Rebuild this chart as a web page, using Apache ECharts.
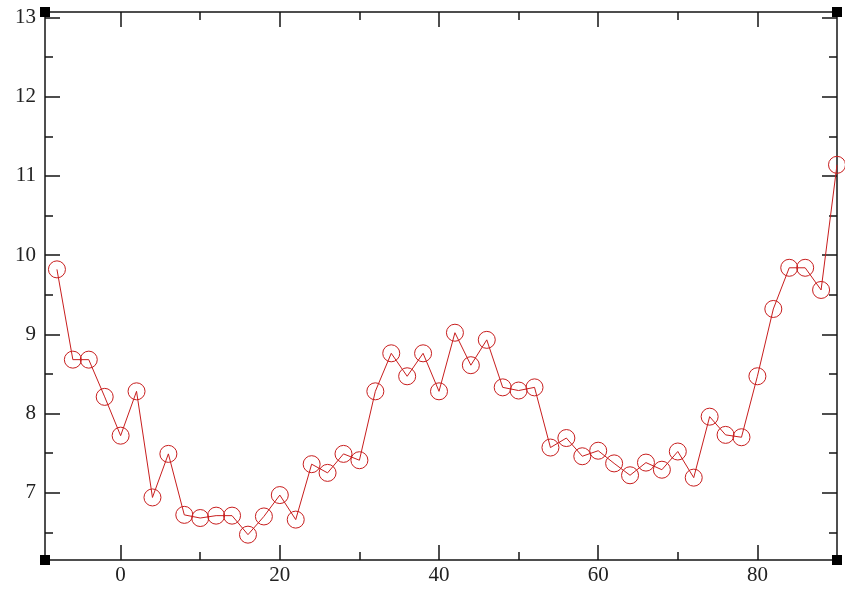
<!DOCTYPE html>
<html>
<head>
<meta charset="utf-8">
<script src="https://cdn.jsdelivr.net/npm/echarts@6/dist/echarts.min.js"></script>
<style>
  html, body { margin: 0; padding: 0; background: #fff; }
  #chart { width: 845px; height: 591px; }
</style>
</head>
<body>
<div id="chart"></div>
<script>
// Sample positions along x and the measured value at each one
const xValues = [-8, -6, -4, -2, 0, 2, 4, 6, 8, 10, 12, 14, 16, 18, 20, 22, 24, 26, 28, 30,
  32, 34, 36, 38, 40, 42, 44, 46, 48, 50, 52, 54, 56, 58, 60, 62, 64, 66, 68, 70,
  72, 74, 76, 78, 80, 82, 84, 86, 88, 90];
const yValues = [9.82, 8.68, 8.68, 8.21, 7.72, 8.28, 6.94, 7.49, 6.72, 6.68, 6.71, 6.71, 6.47, 6.70, 6.97, 6.66, 7.36, 7.25, 7.49, 7.41,
  8.28, 8.76, 8.47, 8.76, 8.28, 9.02, 8.61, 8.93, 8.33, 8.29, 8.33, 7.57, 7.69, 7.46, 7.53, 7.37, 7.22, 7.38, 7.29, 7.52,
  7.19, 7.96, 7.73, 7.70, 8.47, 9.32, 9.84, 9.84, 9.56, 11.14];

// Tick positions
const xMajorTicks = [0, 20, 40, 60, 80];
const xMinorTicks = [10, 30, 50, 70];
const yMajorTicks = [7, 8, 9, 10, 11, 12, 13];
const yMinorTicks = [6.5, 7.5, 8.5, 9.5, 10.5, 11.5, 12.5];

const X_RANGE = [-9.5, 90];
const Y_RANGE = [6.15, 13.07];

const LINE_COLOR = '#c81e1e';
const AXIS_COLOR = '#151515';
const FONT = '"Liberation Serif", "DejaVu Serif", serif';

const GRID = { left: 45, right: 8, top: 12, bottom: 31 };

function makeAxis(kind, position, ticks, tickLen, withLine, withLabels, range) {
  const ax = {
    type: 'value',
    position: position,
    min: range[0],
    max: range[1],
    splitLine: { show: false },
    axisLine: { show: withLine, onZero: false, lineStyle: { color: AXIS_COLOR, width: 1.5 } },
    axisTick: {
      show: true,
      inside: true,
      length: tickLen,
      customValues: ticks,
      lineStyle: { color: AXIS_COLOR, width: 1.5 }
    },
    axisLabel: { show: false }
  };
  if (withLabels) {
    ax.axisLabel = {
      show: true,
      customValues: ticks,
      color: '#222',
      fontFamily: FONT,
      fontSize: 21,
      margin: kind === 'x' ? 5 : 9
    };
  }
  return ax;
}

const chart = echarts.init(document.getElementById('chart'), null, { renderer: 'canvas' });

const option = {
  animation: false,
  backgroundColor: '#fff',
  grid: Object.assign({ containLabel: false, outerBoundsMode: 'none' }, GRID),
  xAxis: [
    makeAxis('x', 'bottom', xMajorTicks, 15, true, true, X_RANGE),
    makeAxis('x', 'bottom', xMinorTicks, 8, false, false, X_RANGE),
    makeAxis('x', 'top', xMajorTicks, 15, true, false, X_RANGE),
    makeAxis('x', 'top', xMinorTicks, 8, false, false, X_RANGE)
  ],
  yAxis: [
    makeAxis('y', 'left', yMajorTicks, 15, true, true, Y_RANGE),
    makeAxis('y', 'left', yMinorTicks, 8, false, false, Y_RANGE),
    makeAxis('y', 'right', yMajorTicks, 15, true, false, Y_RANGE),
    makeAxis('y', 'right', yMinorTicks, 8, false, false, Y_RANGE)
  ],
  series: [{
    type: 'line',
    xAxisIndex: 0,
    yAxisIndex: 0,
    data: xValues.map((x, i) => [x, yValues[i]]),
    symbol: 'circle',
    symbolSize: 17,
    showAllSymbol: true,
    clip: false,
    lineStyle: { color: LINE_COLOR, width: 1 },
    itemStyle: { color: 'rgba(0,0,0,0)', borderColor: LINE_COLOR, borderWidth: 1 }
  }]
};

chart.setOption(option);

// Small square handles at the four corners of the frame
const W = 845, H = 591, S = 10;
const corners = [
  [GRID.left, GRID.top],
  [W - GRID.right, GRID.top],
  [GRID.left, H - GRID.bottom],
  [W - GRID.right, H - GRID.bottom]
];
chart.setOption({
  graphic: corners.map(c => ({
    type: 'rect',
    shape: { x: c[0] - S / 2, y: c[1] - S / 2, width: S, height: S },
    style: { fill: '#000' },
    z: 100
  }))
});
</script>
</body>
</html>
